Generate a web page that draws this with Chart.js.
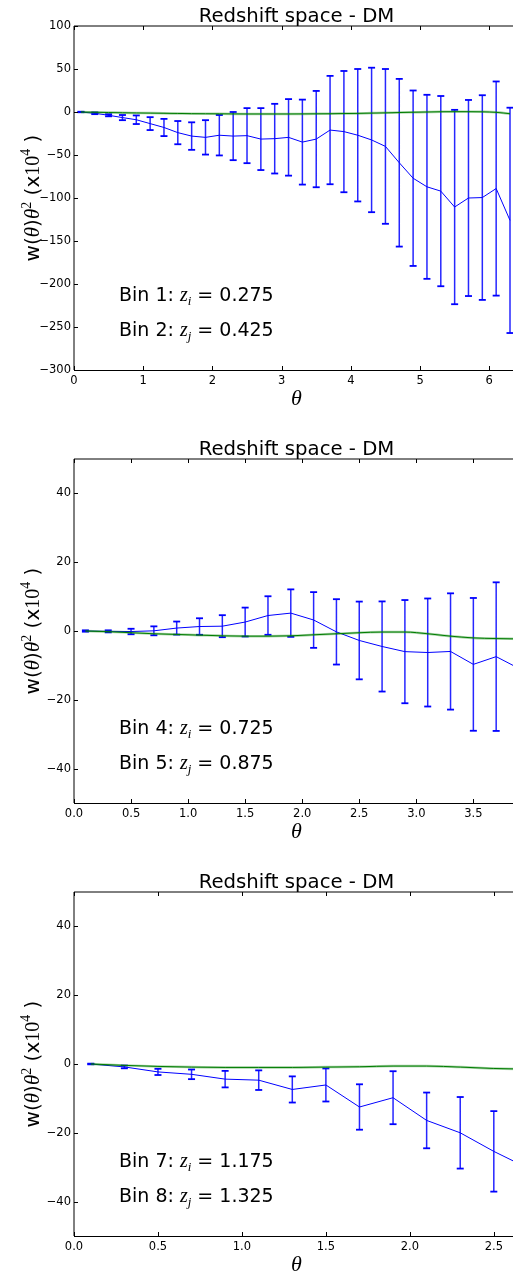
<!DOCTYPE html>
<html>
<head>
<meta charset="utf-8">
<script src="https://cdn.jsdelivr.net/npm/chart.js@4.4.1/dist/chart.umd.min.js"></script>
<style>
  html, body { margin: 0; padding: 0; background: #fff; overflow: hidden; width: 513px; height: 1272px; }
  .panel { position: absolute; left: 0; width: 519px; height: 420px; }
</style>
</head>
<body>
<div class="panel" style="top:0px"><canvas id="c1" width="519" height="420"></canvas></div>
<div class="panel" style="top:433px"><canvas id="c2" width="519" height="420"></canvas></div>
<div class="panel" style="top:866px"><canvas id="c3" width="519" height="420"></canvas></div>
<script>
// ---- panel 1 : bins 1 x 2 ----
var theta1 = [0.1, 0.3, 0.5, 0.7, 0.9, 1.1, 1.3, 1.5, 1.7, 1.9, 2.1, 2.3, 2.5, 2.7, 2.9, 3.1,
              3.3, 3.5, 3.7, 3.9, 4.1, 4.3, 4.5, 4.7, 4.9, 5.1, 5.3, 5.5, 5.7, 5.9, 6.1, 6.3]
var w1     = [0, -1.5, -3.8, -6.5, -9, -13.5, -18, -24, -28, -29.5, -27, -28, -27.5, -31.5, -31, -29.5,
              -35, -31.5, -21, -22.8, -27, -32.5, -40, -59, -77, -87, -92, -110.5, -100, -99.5, -89, -126]
var err1   = [0.3, 1, 1.2, 3, 5, 7.5, 10, 13.5, 16, 20, 23.5, 28, 32, 36, 40.5, 44.5,
              49.4, 56, 63, 70.5, 77, 84, 90, 97.5, 102, 107, 110.6, 113, 114, 119, 124.5, 131]
var model1 = [0, -0.3, -0.6, -0.9, -1.1, -1.3, -1.5, -1.7, -1.9, -2.0, -2.1, -2.2, -2.3, -2.3, -2.3, -2.3,
              -2.2, -2.1, -2.0, -1.8, -1.6, -1.3, -1.0, -0.6, -0.3, 0, 0.3, 0.4, 0.4, 0.2, -0.4, -2.0]
var xTicks1 = [0, 1, 2, 3, 4, 5, 6]
var yTicks1 = [100, 50, 0, -50, -100, -150, -200, -250, -300]
var bins1 = ['Bin 1', 'Bin 2']
var zBin1 = ['0.275', '0.425']

// ---- panel 2 : bins 4 x 5 ----
var theta2 = [0.1, 0.3, 0.5, 0.7, 0.9, 1.1, 1.3, 1.5, 1.7, 1.9, 2.1, 2.3, 2.5, 2.7, 2.9, 3.1, 3.3, 3.5, 3.7, 3.9]
var w2     = [0, -0.1, -0.15, 0.05, 0.85, 1.3, 1.4, 2.6, 4.5, 5.2, 3.2, -0.25, -2.75, -4.5, -6, -6.25, -5.95, -9.7, -7.45, -10.9]
var err2   = [0.2, 0.3, 0.8, 1.3, 1.9, 2.4, 3.2, 4.2, 5.6, 6.9, 8.1, 9.5, 11.3, 13.1, 15, 15.7, 16.9, 19.3, 21.6, 23]
var model2 = [0, -0.2, -0.5, -0.8, -1.0, -1.2, -1.4, -1.5, -1.5, -1.4, -1.1, -0.8, -0.5, -0.3, -0.3, -0.8, -1.5, -2.0, -2.2, -2.3]
var xTicks2 = [0, 0.5, 1, 1.5, 2, 2.5, 3, 3.5]
var yTicks2 = [40, 20, 0, -20, -40]
var bins2 = ['Bin 4', 'Bin 5']
var zBin2 = ['0.725', '0.875']

// ---- panel 3 : bins 7 x 8 ----
var theta3 = [0.1, 0.3, 0.5, 0.7, 0.9, 1.1, 1.3, 1.5, 1.7, 1.9, 2.1, 2.3, 2.5, 2.7]
var w3     = [0, -0.85, -2.3, -3, -4.4, -4.7, -7.4, -6.1, -12.5, -9.8, -16.4, -20, -25.4, -30.2]
var err3   = [0.1, 0.4, 0.9, 1.4, 2.4, 2.85, 3.8, 4.8, 6.6, 7.7, 8.1, 10.4, 11.7, 13]
var model3 = [0, -0.4, -0.7, -0.9, -1.0, -1.0, -1.0, -0.9, -0.8, -0.6, -0.6, -0.9, -1.3, -1.5]
var xTicks3 = [0, 0.5, 1, 1.5, 2, 2.5]
var yTicks3 = [40, 20, 0, -20, -40]
var bins3 = ['Bin 7', 'Bin 8']
var zBin3 = ['1.175', '1.325']

var TITLE = 'Redshift space - DM'
var SANS = '"DejaVu Sans"'
var SERIF = '"Liberation Serif"'

function fmtTick(v, dec) {
  var s = v.toFixed(dec)
  return s.charAt(0) === '-' ? '\u2212' + s.slice(1) : s
}

function drawParts(ctx, parts, x, y) {
  parts.forEach(function (p) {
    ctx.font = p.font
    ctx.fillText(p.t, x, y + (p.dy || 0))
    x += ctx.measureText(p.t).width
  })
}

function partsWidth(ctx, parts) {
  var w = 0
  parts.forEach(function (p) {
    ctx.font = p.font
    w += ctx.measureText(p.t).width
  })
  return w
}

// spines, inward ticks and all the text
var framePlugin = {
  id: 'frame',
  afterDraw: function (chart) {
    var ctx = chart.ctx
    var a = chart.chartArea
    var xs = chart.scales.x
    var ys = chart.scales.y
    var cfg = chart.options.plugins.frame
    ctx.save()
    ctx.strokeStyle = '#000'
    ctx.lineWidth = 1
    ctx.beginPath()
    ctx.moveTo(a.left, a.top); ctx.lineTo(a.left, a.bottom)
    ctx.moveTo(a.left, a.top); ctx.lineTo(a.right, a.top)
    ctx.moveTo(a.right, a.top); ctx.lineTo(a.right, a.bottom)
    ctx.stroke()
    ctx.beginPath()
    ctx.moveTo(a.left, a.bottom + 0.5); ctx.lineTo(a.right, a.bottom + 0.5)
    ctx.stroke()

    ctx.beginPath()
    xs.ticks.forEach(function (t) {
      var px = Math.round(xs.getPixelForValue(t.value)) + 0.5
      ctx.moveTo(px, a.top); ctx.lineTo(px, a.top + 4)
      ctx.moveTo(px, a.bottom); ctx.lineTo(px, a.bottom - 4)
    })
    ys.ticks.forEach(function (t) {
      var py = Math.round(ys.getPixelForValue(t.value)) + 0.5
      ctx.moveTo(a.left, py); ctx.lineTo(a.left + 4, py)
      ctx.moveTo(a.right, py); ctx.lineTo(a.right - 4, py)
    })
    ctx.stroke()

    ctx.fillStyle = '#000'
    ctx.textBaseline = 'alphabetic'

    // title
    ctx.textAlign = 'center'
    ctx.font = '19.7px ' + SANS
    ctx.fillText(TITLE, (a.left + a.right) / 2, a.top - 4)

    // x label
    ctx.font = 'italic 22px ' + SERIF
    ctx.fillText('\u03b8', (a.left + a.right) / 2, a.bottom + 35)

    // y label
    ctx.textAlign = 'left'
    var yl = [
      { t: 'w(', font: '20px ' + SANS },
      { t: '\u03b8', font: 'italic 21px ' + SERIF },
      { t: ')', font: '20px ' + SANS },
      { t: '\u03b8', font: 'italic 21px ' + SERIF },
      { t: '2', font: '14px ' + SERIF, dy: -8 },
      { t: ' (x', font: '20px ' + SANS },
      { t: '10', font: '20px ' + SERIF },
      { t: '4', font: '14px ' + SERIF, dy: -9 },
      { t: ' )', font: '20px ' + SANS }
    ]
    ctx.save()
    ctx.translate(39, (a.top + a.bottom) / 2)
    ctx.rotate(-Math.PI / 2)
    drawParts(ctx, yl, -partsWidth(ctx, yl) / 2, 0)
    ctx.restore()

    // bin annotations
    var subs = ['i', 'j']
    cfg.bins.forEach(function (b, k) {
      drawParts(ctx, [
        { t: b + ': ', font: '19px ' + SANS },
        { t: 'z', font: 'italic 20px ' + SERIF },
        { t: subs[k], font: 'italic 13px ' + SERIF, dy: 4 },
        { t: ' = ' + cfg.z[k], font: '19px ' + SANS }
      ], 119, a.top + 275 + k * 34.5)
    })
    ctx.restore()
  }
}

function makePanel(id, theta, w, err, model, xMax, yMin, yMax, xTicks, yTicks, xDec, bins, zs) {
  var line = theta.map(function (t, i) { return { x: t, y: w[i] } })
  var theory = theta.map(function (t, i) { return { x: t, y: model[i] } })
  var bars = []
  theta.forEach(function (t, i) {
    bars.push({ x: t, y: w[i] - err[i] })
    bars.push({ x: t, y: w[i] + err[i] })
    bars.push({ x: t, y: null })
  })

  return new Chart(document.getElementById(id).getContext('2d'), {
    type: 'scatter',
    data: {
      datasets: [
        {
          data: theory,
          showLine: true,
          borderColor: 'rgba(0,128,0,0.35)',
          borderWidth: 2.5,
          pointRadius: 0,
          cubicInterpolationMode: 'monotone'
        },
        {
          data: theory,
          showLine: true,
          borderColor: '#007a00',
          borderWidth: 1,
          pointRadius: 0,
          cubicInterpolationMode: 'monotone'
        },
        {
          data: bars,
          showLine: true,
          spanGaps: false,
          borderColor: 'rgba(0,0,255,0.85)',
          borderWidth: 1.5,
          pointStyle: 'line',
          pointRadius: 3.5,
          pointBorderWidth: 1.8,
          pointBorderColor: '#0000ff'
        },
        {
          data: line,
          showLine: true,
          borderColor: '#0000ff',
          borderWidth: 1,
          pointRadius: 0,
          tension: 0
        }
      ]
    },
    options: {
      responsive: false,
      animation: false,
      layout: { autoPadding: false, padding: { top: 26, left: 0, right: 0, bottom: 0 } },
      plugins: {
        legend: { display: false },
        tooltip: { enabled: false },
        frame: { bins: bins, z: zs }
      },
      scales: {
        x: {
          type: 'linear',
          min: 0,
          max: xMax,
          grid: { display: false, drawTicks: false },
          border: { display: false },
          afterFit: function (scale) {
            scale.height = 50
            scale.paddingLeft = 0
            scale.paddingRight = 0
          },
          afterBuildTicks: function (scale) {
            scale.ticks = xTicks.map(function (v) { return { value: v } })
          },
          ticks: {
            padding: 4,
            color: '#000',
            maxRotation: 0,
            autoSkip: false,
            font: { family: 'DejaVu Sans', size: 11.5 },
            callback: function (v) { return fmtTick(v, xDec) }
          }
        },
        y: {
          min: yMin,
          max: yMax,
          grid: { display: false, drawTicks: false },
          border: { display: false },
          afterFit: function (scale) {
            scale.width = 74
            scale.paddingTop = 0
            scale.paddingBottom = 0
          },
          afterBuildTicks: function (scale) {
            scale.ticks = yTicks.map(function (v) { return { value: v } })
          },
          ticks: {
            padding: 3,
            color: '#000',
            autoSkip: false,
            font: { family: 'DejaVu Sans', size: 11.5 },
            callback: function (v) { return fmtTick(v, 0) }
          }
        }
      }
    },
    plugins: [framePlugin]
  })
}

makePanel('c1', theta1, w1, err1, model1, 6.43, -300, 100, xTicks1, yTicks1, 0, bins1, zBin1)
makePanel('c2', theta2, w2, err2, model2, 3.9, -50, 50, xTicks2, yTicks2, 1, bins2, zBin2)
makePanel('c3', theta3, w3, err3, model3, 2.65, -50, 50, xTicks3, yTicks3, 1, bins3, zBin3)
</script>
</body>
</html>
